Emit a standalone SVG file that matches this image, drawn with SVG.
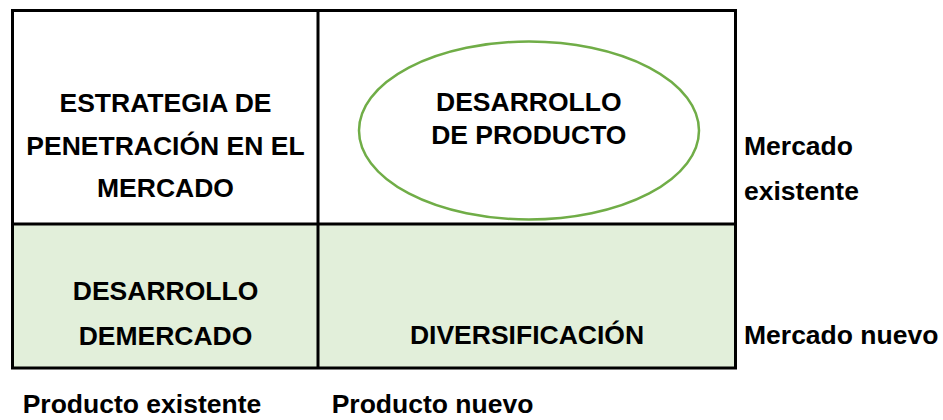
<svg xmlns="http://www.w3.org/2000/svg" width="943" height="420" viewBox="0 0 943 420">
<style>
.t{font-family:"Liberation Sans",Arial,sans-serif;font-weight:bold;font-size:26.5px;fill:#000;}
.c{text-anchor:middle;}
.grid{stroke:#000;stroke-width:3;fill:none;}
</style>
<rect width="943" height="420" fill="#fff"/>
<g id="cells">
<rect id="cell-bl" x="13" y="224" width="305" height="144" fill="#E2EFDA"/>
<rect id="cell-br" x="318" y="224" width="418" height="144" fill="#E2EFDA"/>
</g>
<g id="connectors">
<rect class="grid" x="12.5" y="10.5" width="723" height="357.5"/>
<line class="grid" x1="318" y1="10.5" x2="318" y2="368"/>
<line class="grid" x1="12.5" y1="224" x2="735.5" y2="224"/>
</g>
<g id="penetracion">
<text class="t c" x="165.5" y="112">ESTRATEGIA DE</text>
<text class="t c" x="165.5" y="155">PENETRACIÓN EN EL</text>
<text class="t c" x="165.5" y="197">MERCADO</text>
</g>
<g id="desarrollo-producto">
<ellipse cx="529" cy="130.5" rx="170" ry="89" fill="none" stroke="#70AD47" stroke-width="2.5"/>
<text class="t c" x="528.8" y="111">DESARROLLO</text>
<text class="t c" x="528.8" y="144">DE PRODUCTO</text>
</g>
<g id="desarrollo-mercado">
<text class="t c" x="165.5" y="300">DESARROLLO</text>
<text class="t c" x="165.5" y="345">DEMERCADO</text>
</g>
<g id="diversificacion">
<text class="t c" x="527" y="344">DIVERSIFICACIÓN</text>
</g>
<g id="labels">
<text class="t" x="744" y="155">Mercado</text>
<text class="t" x="744" y="200">existente</text>
<text class="t" x="744" y="344">Mercado nuevo</text>
<text class="t" x="22.7" y="413">Producto existente</text>
<text class="t" x="331.7" y="413">Producto nuevo</text>
</g>
</svg>
